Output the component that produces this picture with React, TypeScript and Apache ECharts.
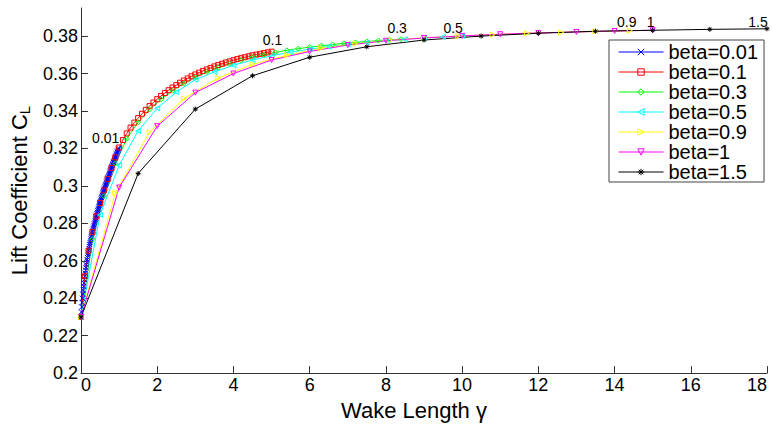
import React, { useEffect, useRef } from "react";
import * as echarts from "echarts";

const FONT = "'Liberation Sans', Arial, Helvetica, sans-serif";

const seriesNames = ["beta=0.01", "beta=0.1", "beta=0.3", "beta=0.5", "beta=0.9", "beta=1", "beta=1.5"];
const endLabels = ["0.01", "0.1", "0.3", "0.5", "0.9", "1", "1.5"];
const steps = [0.01, 0.1, 0.3, 0.5, 0.9, 1, 1.5];

const xTicks = [0, 2, 4, 6, 8, 10, 12, 14, 16, 18];
const yTicks = [0.2, 0.22, 0.24, 0.26, 0.28, 0.3, 0.32, 0.34, 0.36, 0.38];

const cl001 = [
  0.2300, 0.2327, 0.2353, 0.2377, 0.2400, 0.2422, 0.2443, 0.2463, 0.2482, 0.2500,
  0.2517, 0.2533, 0.2549, 0.2564, 0.2578, 0.2592, 0.2605, 0.2618, 0.2630, 0.2642,
  0.2654, 0.2665, 0.2676, 0.2687, 0.2697, 0.2707, 0.2717, 0.2727, 0.2736, 0.2745,
  0.2754, 0.2763, 0.2772, 0.2780, 0.2789, 0.2797, 0.2805, 0.2813, 0.2821, 0.2829,
  0.2837, 0.2844, 0.2852, 0.2859, 0.2867, 0.2874, 0.2881, 0.2888, 0.2895, 0.2902,
  0.2909, 0.2916, 0.2923, 0.2930, 0.2937, 0.2943, 0.2950, 0.2956, 0.2963, 0.2969,
  0.2976, 0.2982, 0.2988, 0.2995, 0.3001, 0.3007, 0.3013, 0.3019, 0.3025, 0.3031,
  0.3037, 0.3043, 0.3049, 0.3055, 0.3061, 0.3067, 0.3073, 0.3079, 0.3085, 0.3090,
  0.3096, 0.3102, 0.3108, 0.3113, 0.3119, 0.3125, 0.3130, 0.3136, 0.3141, 0.3147,
  0.3152, 0.3158, 0.3163, 0.3169, 0.3174, 0.3180, 0.3185, 0.3190, 0.3196, 0.3201,
];
const cl01 = [
  0.2300, 0.2517, 0.2654, 0.2754, 0.2837, 0.2909, 0.2976, 0.3037, 0.3096, 0.3152,
  0.3205, 0.3245, 0.3280, 0.3311, 0.3338, 0.3362, 0.3385, 0.3406, 0.3426, 0.3445,
  0.3463, 0.3480, 0.3496, 0.3511, 0.3525, 0.3538, 0.3551, 0.3563, 0.3574, 0.3585,
  0.3595, 0.3605, 0.3614, 0.3622, 0.3630, 0.3638, 0.3645, 0.3652, 0.3659, 0.3665,
  0.3671, 0.3677, 0.3682, 0.3687, 0.3692, 0.3697, 0.3701, 0.3705, 0.3709, 0.3713,
  0.3717,
];
const cl03 = [
  0.2300, 0.2715, 0.2945, 0.3120, 0.3252, 0.3340, 0.3408, 0.3462, 0.3508, 0.3547,
  0.3580, 0.3608, 0.3632, 0.3653, 0.3671, 0.3687, 0.3701, 0.3713, 0.3724, 0.3733,
  0.3741, 0.3748, 0.3755, 0.3761, 0.3766, 0.3771, 0.3776, 0.3780, 0.3784,
];
const cl05 = [
  0.2300, 0.2845, 0.3110, 0.3294, 0.3414, 0.3501, 0.3567, 0.3609, 0.3644, 0.3672,
  0.3695, 0.3714, 0.3730, 0.3744, 0.3756, 0.3766, 0.3775, 0.3783, 0.3790, 0.3796,
  0.3801,
];
const cl09 = [
  0.2300, 0.2962, 0.3287, 0.3466, 0.3576, 0.3649, 0.3697, 0.3735, 0.3760, 0.3778,
  0.3791, 0.3800, 0.3808, 0.3815, 0.3820, 0.3825, 0.3829,
];
const cl1 = [
  0.2300, 0.2991, 0.3319, 0.3498, 0.3600, 0.3672, 0.3718, 0.3752, 0.3775, 0.3790,
  0.3801, 0.3810, 0.3817, 0.3822, 0.3827, 0.3831,
];
const cl15 = [
  0.2300, 0.3066, 0.3410, 0.3588, 0.3687, 0.3743, 0.3779, 0.3800, 0.3815, 0.3826,
  0.3831, 0.3836, 0.3839,
];

const allValues = [cl001, cl01, cl03, cl05, cl09, cl1, cl15];

const colors = ["#0000ff", "#ff0000", "#00ff00", "#00ffff", "#ffff00", "#ff00ff", "#000000"];
const symbols = [
  "path://M0,0L10,10M0,10L10,0",
  "path://M0,0L10,0L10,10L0,10Z",
  "path://M5,0L10,5L5,10L0,5Z",
  "path://M0,5L10,0L10,10Z",
  "path://M10,5L0,0L0,10Z",
  "path://M0,0L10,0L5,10Z",
  "path://M5,0L5,10M0,5L10,5M1.5,1.5L8.5,8.5M1.5,8.5L8.5,1.5",
];
const labelOffsets: [number, number][] = [
  [-13, -10],
  [1, -12],
  [-4, -11],
  [-9, -8],
  [-3, -9],
  [-2, -8.5],
  [-9, -7],
];

export default function App() {
  const ref = useRef<HTMLDivElement>(null);
  useEffect(() => {
    if (!ref.current) return;
    const chart = echarts.init(ref.current, undefined, { renderer: "svg" });
    const series = allValues.map((vals, si) => {
      const data = vals.map((v, k) => {
        const x = Number((k * steps[si]).toFixed(4));
        if (k === vals.length - 1) {
          return {
            value: [x, v],
            label: {
              show: true,
              formatter: endLabels[si],
              position: "inside",
              offset: labelOffsets[si],
              fontSize: 14,
              fontFamily: FONT,
              color: "#000",
            },
          };
        }
        return { value: [x, v] };
      });
      return {
        name: seriesNames[si],
        type: "line",
        data,
        color: colors[si],
        symbol: symbols[si],
        symbolSize: 5,
        showAllSymbol: true,
        lineStyle: { color: colors[si], width: 1 },
        itemStyle: { color: "transparent", borderColor: colors[si], borderWidth: 1 },
        emphasis: { disabled: true },
        silent: true,
      };
    });
    const axisColor = "#333";
    chart.setOption({
      animation: false,
      backgroundColor: "#fff",
      grid: { left: 81, right: 5, top: 8, bottom: 45, containLabel: false },
      legend: {
        orient: "vertical",
        left: 609,
        top: 40,
        padding: [2, 6, 0, 9],
        itemWidth: 45,
        itemHeight: 8,
        itemGap: 0,
        borderColor: "#444",
        borderWidth: 1,
        backgroundColor: "#fff",
        selectedMode: false,
        itemStyle: { color: "transparent", borderWidth: 1 },
        lineStyle: { width: 1 },
        textStyle: { fontSize: 20, lineHeight: 19.3, color: "#000", fontFamily: FONT },
        data: seriesNames,
      },
      xAxis: {
        type: "value",
        min: 0,
        max: 18,
        interval: 2,
        name: "Wake Length γ",
        nameLocation: "middle",
        nameGap: 20,
        nameTextStyle: { fontSize: 22, color: "#000", fontFamily: FONT, padding: [0, 20, 0, 0] },
        axisLine: { show: true, lineStyle: { color: axisColor, width: 1 } },
        axisTick: { show: true, inside: true, length: 7, customValues: xTicks, lineStyle: { color: axisColor } },
        axisLabel: {
          fontSize: 18,
          color: "#000",
          fontFamily: FONT,
          margin: 3,
          customValues: xTicks,
          alignMinLabel: "left",
          alignMaxLabel: "right",
        },
        splitLine: { show: false },
      },
      yAxis: {
        type: "value",
        min: 0.2,
        max: 0.395,
        interval: 0.02,
        name: "{a|Lift Coefficient C}{b|L}",
        nameLocation: "middle",
        nameGap: 45,
        nameTextStyle: {
          color: "#000",
          fontFamily: FONT,
          rich: {
            a: { fontSize: 22, fontFamily: FONT, color: "#000" },
            b: { fontSize: 15, fontFamily: FONT, color: "#000", padding: [11, 0, 0, 0] },
          },
        },
        axisLine: { show: true, lineStyle: { color: axisColor, width: 1 } },
        axisTick: { show: true, inside: true, length: 7, customValues: yTicks, lineStyle: { color: axisColor } },
        axisLabel: { fontSize: 18, color: "#000", fontFamily: FONT, margin: 3, customValues: yTicks },
        splitLine: { show: false },
      },
      series,
    });
    return () => chart.dispose();
  }, []);
  return (
    <div
      ref={ref}
      style={{ position: "fixed", left: 0, top: 0, width: 772, height: 426, background: "#fff" }}
    />
  );
}
